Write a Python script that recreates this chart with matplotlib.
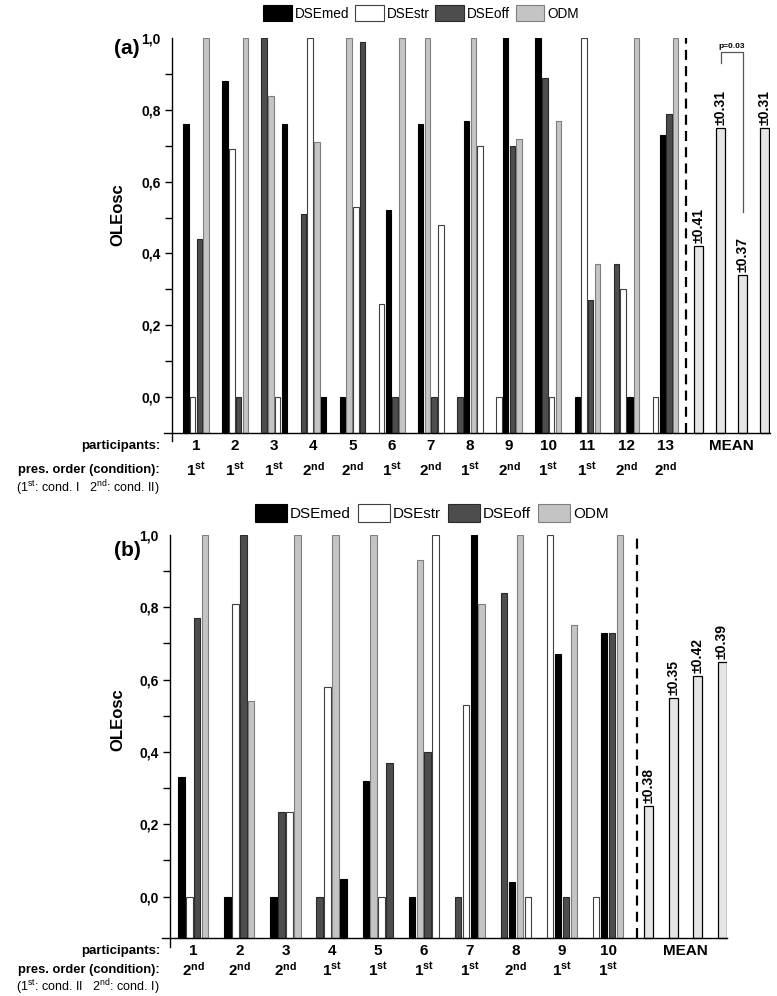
import matplotlib
matplotlib.use('Agg')
import matplotlib.pyplot as plt
import numpy as np
from matplotlib.patches import Patch

plt.rcParams['font.family'] = ['Liberation Sans', 'DejaVu Sans']
plt.rcParams['mathtext.default'] = 'regular'

W, H = 777, 996

series = ['DSEmed', 'DSEstr', 'DSEoff', 'ODM']
face = {'DSEmed': '#000000', 'DSEstr': '#ffffff', 'DSEoff': '#4d4d4d', 'ODM': '#c4c4c4'}
edge = {'DSEmed': '#000000', 'DSEstr': '#404040', 'DSEoff': '#2a2a2a', 'ODM': '#7f7f7f'}

# ---- panel (a) data: 13 participants ----
dsemed_a = [0.76, 0.88, 0.76, 0.0, 0.0, 0.52, 0.76, 0.77, 1.0, 1.0, 0.0, 0.0, 0.73]
dsestr_a = [0.0, 0.69, 0.0, 1.0, 0.53, 0.26, 0.48, 0.70, 0.0, 0.0, 1.0, 0.30, 0.0]
dseoff_a = [0.44, 0.0, 1.0, 0.51, 0.99, 0.0, 0.0, 0.0, 0.70, 0.89, 0.27, 0.37, 0.79]
odm_a = [1.0, 1.0, 0.84, 0.71, 1.0, 1.0, 1.0, 1.0, 0.72, 0.77, 0.37, 1.0, 1.0]
# bar order inside each participant group
order_a = [
    ('DSEmed', 'DSEstr', 'DSEoff', 'ODM'),
    ('DSEmed', 'DSEstr', 'DSEoff', 'ODM'),
    ('DSEoff', 'ODM', 'DSEstr', 'DSEmed'),
    ('DSEoff', 'DSEstr', 'ODM', 'DSEmed'),
    ('DSEmed', 'ODM', 'DSEstr', 'DSEoff'),
    ('DSEstr', 'DSEmed', 'DSEoff', 'ODM'),
    ('DSEmed', 'ODM', 'DSEoff', 'DSEstr'),
    ('DSEoff', 'DSEmed', 'ODM', 'DSEstr'),
    ('DSEstr', 'DSEmed', 'DSEoff', 'ODM'),
    ('DSEmed', 'DSEoff', 'DSEstr', 'ODM'),
    ('DSEmed', 'DSEstr', 'DSEoff', 'ODM'),
    ('DSEoff', 'DSEstr', 'DSEmed', 'ODM'),
    ('DSEstr', 'DSEmed', 'DSEoff', 'ODM'),
]
pres_a = ['st', 'st', 'st', 'nd', 'nd', 'st', 'nd', 'st', 'nd', 'st', 'st', 'nd', 'nd']
mean_a = [0.42, 0.75, 0.34, 0.75]
sd_a = ['±0.41', '±0.31', '±0.37', '±0.31']

# ---- panel (b) data: 10 participants ----
dsemed_b = [0.33, 0.0, 0.0, 0.05, 0.32, 0.0, 1.0, 0.04, 0.67, 0.73]
dsestr_b = [0.0, 0.81, 0.235, 0.58, 0.0, 1.0, 0.53, 0.0, 1.0, 0.0]
dseoff_b = [0.77, 1.0, 0.235, 0.0, 0.37, 0.40, 0.0, 0.84, 0.0, 0.73]
odm_b = [1.0, 0.54, 1.0, 1.0, 1.0, 0.93, 0.81, 1.0, 0.75, 1.0]
order_b = [
    ('DSEmed', 'DSEstr', 'DSEoff', 'ODM'),
    ('DSEmed', 'DSEstr', 'DSEoff', 'ODM'),
    ('DSEmed', 'DSEoff', 'DSEstr', 'ODM'),
    ('DSEoff', 'DSEstr', 'ODM', 'DSEmed'),
    ('DSEmed', 'ODM', 'DSEstr', 'DSEoff'),
    ('DSEmed', 'ODM', 'DSEoff', 'DSEstr'),
    ('DSEoff', 'DSEstr', 'DSEmed', 'ODM'),
    ('DSEoff', 'DSEmed', 'ODM', 'DSEstr'),
    ('DSEstr', 'DSEmed', 'DSEoff', 'ODM'),
    ('DSEstr', 'DSEmed', 'DSEoff', 'ODM'),
]
pres_b = ['nd', 'nd', 'nd', 'st', 'st', 'st', 'st', 'nd', 'st', 'st']
mean_b = [0.25, 0.55, 0.61, 0.65]
sd_b = ['±0.38', '±0.35', '±0.42', '±0.39']

STEP, WIDTH = 0.172, 0.14
BOLD = dict(fontweight='bold')


def draw_panel(ax, values, order, pres, means, sds, g):
    base = g['base']
    for i, grp in enumerate(order):
        for k, s in enumerate(grp):
            v = values[s][i]
            ax.bar(i + (k - 1.5) * STEP, v - base, bottom=base, width=WIDTH,
                   color=face[s], edgecolor=edge[s], linewidth=0.8)

    # mean bars
    xm = [g['mstart'] + j * g['mstep'] for j in range(len(means))]
    for x, m, sd in zip(xm, means, sds):
        ax.bar(x, m - base, bottom=base, width=g['mwidth'], color='#e5e5e5',
               edgecolor='black', linewidth=0.9)
        ax.text(x, m + 0.008, sd, rotation=90, ha='center', va='bottom',
                fontsize=10, **BOLD)

    ax.plot([g['dash'], g['dash']], [base, 1.0], color='black', lw=1.6,
            ls=(0, (4.5, 2.8)))

    ax.set_xlim(g['xl'], g['xr'])
    ax.set_ylim(g['ylo'], 1.0)
    for sp in ['top', 'right', 'bottom']:
        ax.spines[sp].set_visible(False)
    ax.spines['left'].set_linewidth(1.0)
    ax.plot([g['xl'] - g['ext'], g['xr']], [base, base], color='black', lw=1.0,
            clip_on=False)
    ax.set_xticks([])
    ticks = np.round(np.arange(0, 1.01, 0.1), 1)
    ax.set_yticks(ticks)
    ax.set_yticklabels([f'{t:.1f}'.replace('.', ',') if i % 2 == 0 else ''
                        for i, t in enumerate(ticks)], fontsize=10, fontweight='bold')
    ax.tick_params(axis='y', length=5, width=1.0, pad=3)
    ax.yaxis.get_major_ticks()[-1].tick1line.set_visible(False)

    # row labels under the axis
    for i, p in enumerate(pres):
        ax.annotate(str(i + 1), xy=(i, base), xytext=(0, -g['r1']),
                    textcoords='offset points', ha='center', va='center',
                    fontsize=11, annotation_clip=False, **BOLD)
        ax.annotate('%s$^{%s}$' % ('1' if p == 'st' else '2', p), xy=(i, base),
                    xytext=(0, -g['r2']), textcoords='offset points',
                    ha='center', va='center', fontsize=11,
                    annotation_clip=False, **BOLD)
    ax.annotate('MEAN', xy=(np.mean(xm), base), xytext=(0, -g['r1']),
                textcoords='offset points', ha='center', va='center',
                fontsize=11, annotation_clip=False, **BOLD)
    lx = 160 / W
    ax.annotate('participants:', xy=(lx, base), xycoords=('figure fraction', 'data'),
                xytext=(0, -g['r1']), textcoords='offset points', ha='right',
                va='center', fontsize=9.5, annotation_clip=False, **BOLD)
    ax.annotate('pres. order (condition):', xy=(lx, base),
                xycoords=('figure fraction', 'data'), xytext=(0, -g['r2']),
                textcoords='offset points', ha='right', va='center',
                fontsize=9.3, annotation_clip=False, **BOLD)
    ax.annotate(g['cond'], xy=(lx, base), xycoords=('figure fraction', 'data'),
                xytext=(0, -g['r3']), textcoords='offset points', ha='right',
                va='center', fontsize=9, annotation_clip=False)
    return xm


fig = plt.figure(figsize=(W / 100, H / 100), dpi=100)

ax_a = fig.add_axes([172 / W, 0.5574, (770 - 172) / W, 0.9615 - 0.5574])
ax_b = fig.add_axes([170 / W, 0.0489, (727 - 170) / W, 0.4629 - 0.0489])

geom_a = dict(base=-0.1, ylo=-0.123, xl=-0.614, xr=14.667, ext=0.2,
              dash=12.53, mstart=12.84, mstep=0.563, mwidth=0.24,
              r1=10, r2=27, r3=40,
              cond='(1$^{st}$: cond. I   2$^{nd}$: cond. II)')
geom_b = dict(base=-0.115, ylo=-0.14, xl=-0.505, xr=11.58, ext=0.17,
              dash=9.62, mstart=9.885, mstep=0.529, mwidth=0.195,
              r1=9, r2=22.5, r3=35,
              cond='(1$^{st}$: cond. II   2$^{nd}$: cond. I)')

vals_a = {'DSEmed': dsemed_a, 'DSEstr': dsestr_a, 'DSEoff': dseoff_a, 'ODM': odm_a}
vals_b = {'DSEmed': dsemed_b, 'DSEstr': dsestr_b, 'DSEoff': dseoff_b, 'ODM': odm_b}

xm_a = draw_panel(ax_a, vals_a, order_a, pres_a, mean_a, sd_a, geom_a)
draw_panel(ax_b, vals_b, order_b, pres_b, mean_b, sd_b, geom_b)

# significance bracket between 2nd and 3rd mean bars
ax_a.plot([xm_a[1], xm_a[1], xm_a[2], xm_a[2]], [0.93, 0.963, 0.963, 0.516],
          color='#555555', lw=0.9)
ax_a.text((xm_a[1] + xm_a[2]) / 2, 0.968, 'p=0.03', ha='center', va='bottom',
          fontsize=6, **BOLD)

# legends
handles = [Patch(facecolor=face[s], edgecolor=edge[s], linewidth=0.8) for s in series]
for cx, cy, fs in [(421 / W, 1 - 13 / H, 9.8), (432 / W, 1 - 513 / H, 11)]:
    fig.legend(handles, series, loc='center', bbox_to_anchor=(cx, cy), ncol=4,
               frameon=False, handlelength=2.1, handleheight=1.35,
               handletextpad=0.2, columnspacing=0.45, borderpad=0,
               prop={'size': fs})

# panel letters and y labels
for letter, ly, oy in [('(a)', 48, 215), ('(b)', 551, 720)]:
    fig.text(127 / W, 1 - ly / H, letter, ha='center', va='center', fontsize=15,
             **BOLD)
    fig.text(118 / W, 1 - oy / H, 'OLEosc', ha='center', va='center', rotation=90,
             fontsize=12, **BOLD)

fig.savefig('out.png', dpi=100)
